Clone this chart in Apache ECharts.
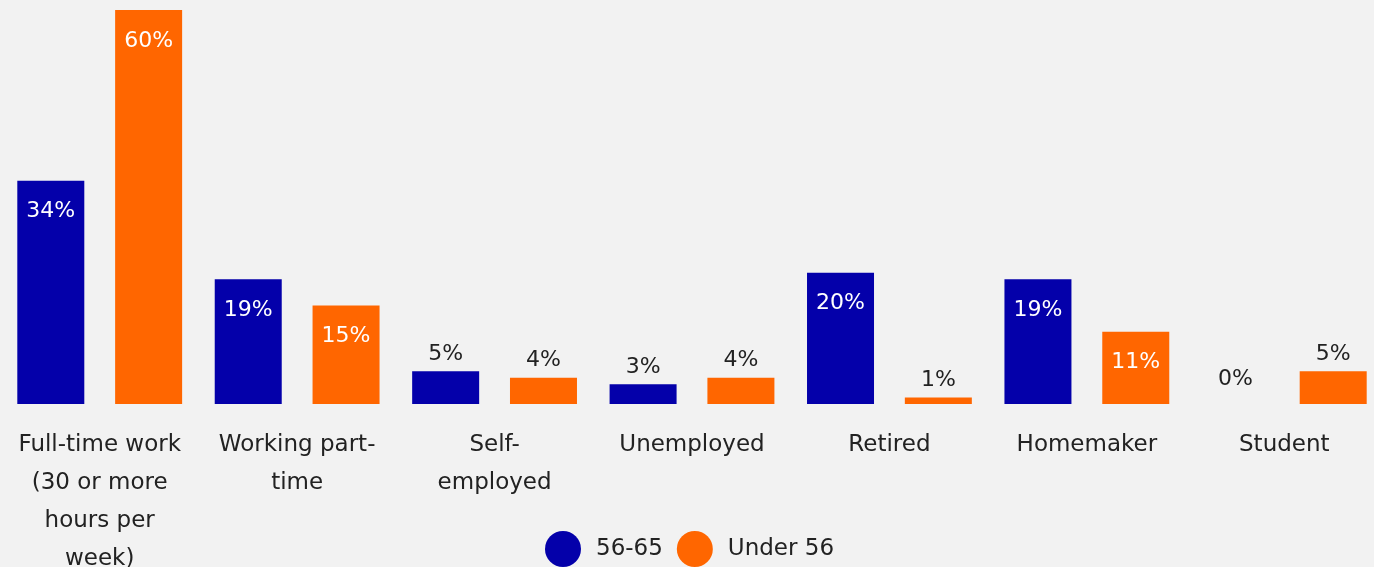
<!DOCTYPE html>
<html>
<head>
<meta charset="utf-8">
<script src="https://cdn.jsdelivr.net/npm/echarts@6/dist/echarts.min.js"></script>
<style>
  html, body { margin: 0; padding: 0; background: #f2f2f2; }
  #chart { width: 1374px; height: 567px; }
</style>
</head>
<body>
<div id="chart"></div>
<script>
// Employment status by age group (percent of respondents)
const categories = [
  'Full-time work\n(30 or more\nhours per\nweek)',
  'Working part-\ntime',
  'Self-\nemployed',
  'Unemployed',
  'Retired',
  'Homemaker',
  'Student'
];
const seriesNames = ['56-65', 'Under 56'];
const age56to65 = [34, 19, 5, 3, 20, 19, 0];
const under56 = [60, 15, 4, 4, 1, 11, 5];

const FONT = 'DejaVu Sans';
const NAVY = '#0400AA';
const ORANGE = '#FF6600';

// Tall bars carry their value inside in white, short ones above in dark text
function withLabels(values) {
  return values.map(v => ({
    value: v,
    label: v >= 10
      ? { position: 'insideTop', distance: 20, color: '#ffffff' }
      : { position: 'top', distance: v === 0 ? 14 : 6, color: '#222222' }
  }));
}

const chart = echarts.init(document.getElementById('chart'), null, { renderer: 'canvas' });
chart.setOption({
  backgroundColor: '#f2f2f2',
  animation: false,
  textStyle: { fontFamily: FONT },
  grid: { left: 1, top: 10, width: 1382, bottom: 163, containLabel: false, outerBoundsMode: 'none' },
  legend: {
    data: seriesNames,
    left: 540,
    top: 526,
    icon: 'circle',
    itemWidth: 36,
    itemHeight: 36,
    itemGap: 14,
    textStyle: { fontFamily: FONT, fontSize: 23, color: '#222222', padding: [6, 0, 0, 10] }
  },
  xAxis: {
    type: 'category',
    data: categories,
    axisLine: { show: false },
    axisTick: { show: false },
    axisLabel: {
      interval: 0,
      margin: 22,
      fontFamily: FONT,
      fontSize: 23,
      lineHeight: 38,
      color: '#222222',
      align: 'center'
    }
  },
  yAxis: {
    type: 'value',
    min: 0,
    max: 60,
    show: false,
    splitLine: { show: false }
  },
  series: [
    {
      name: seriesNames[0],
      type: 'bar',
      data: withLabels(age56to65),
      barWidth: 67,
      barGap: '46%',
      itemStyle: { color: NAVY },
      label: { show: true, formatter: '{c}%', fontFamily: FONT, fontSize: 22 }
    },
    {
      name: seriesNames[1],
      type: 'bar',
      data: withLabels(under56),
      barWidth: 67,
      barGap: '46%',
      itemStyle: { color: ORANGE },
      label: { show: true, formatter: '{c}%', fontFamily: FONT, fontSize: 22 }
    }
  ]
});
</script>
</body>
</html>
